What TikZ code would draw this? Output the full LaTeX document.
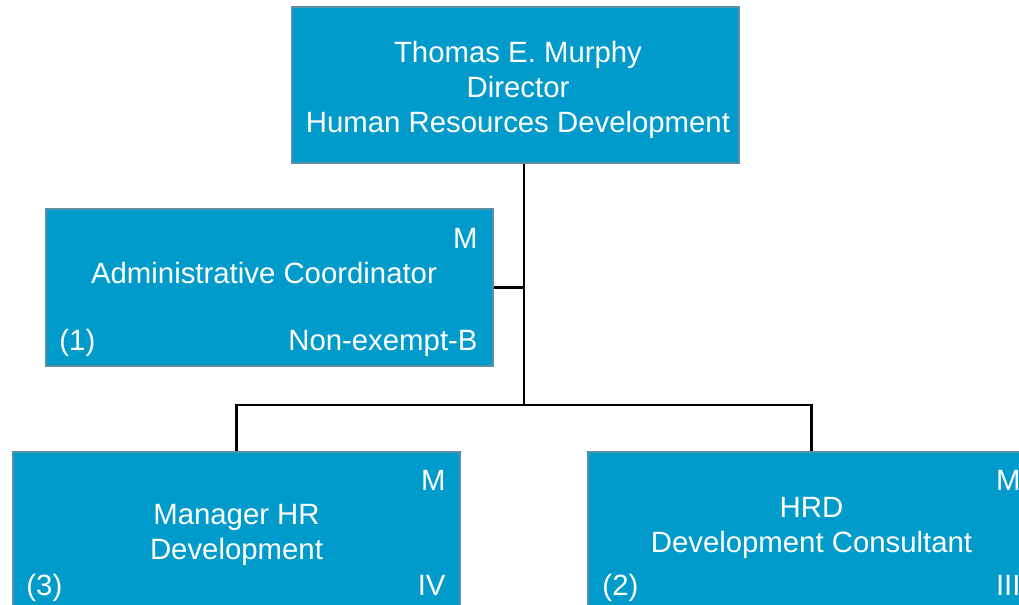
\documentclass[tikz,border=0pt]{standalone}
\usepackage{fontspec}
\setmainfont{Liberation Sans}
\usetikzlibrary{positioning,calc}
\definecolor{HRDBlue}{HTML}{009BCB}
\definecolor{HRDEdge}{HTML}{5B8FA6}

\begin{document}
\begin{tikzpicture}[
  orgbox/.style={fill=HRDBlue, draw=HRDEdge, line width=1pt, minimum width=8.94cm, minimum height=3.13cm, inner sep=0pt},
  boxtext/.style={text=white, font=\fontsize{16.7}{19.9}\selectfont, align=center, inner sep=0pt},
  tag/.style={text=white, font=\fontsize{16.7}{19.9}\selectfont, inner sep=0pt},
  link/.style={line width=1.3pt, black}
]
  \useasboundingbox (0,0) rectangle (20.38,-12.08);
  \clip (0,0) rectangle (20.38,-12.08);

  \node[orgbox] (dir)   at (10.31,-1.70) {};
  \node[orgbox] (admin) at (5.39,-5.75)  {};
  \node[orgbox] (mgr)   at (4.73,-10.60) {};
  \node[orgbox] (cons)  at (16.23,-10.60) {};

  \node[boxtext] (dir-text) at ($(dir.center)+(0.05,-0.09)$) {Thomas E. Murphy\\Director\\Human Resources Development};

  \node[boxtext] (admin-text) at ($(admin.center)+(-0.11,0.30)$) {Administrative Coordinator};
  \node[tag, anchor=base east] (admin-m)  at ([shift={(-0.32,-0.8)}]admin.north east) {M};
  \node[tag, anchor=base west] (admin-n)  at ([shift={(0.28,0.32)}]admin.south west) {(1)};
  \node[tag, anchor=base east] (admin-g)  at ([shift={(-0.32,0.32)}]admin.south east) {Non-exempt-B};

  \node[boxtext] (mgr-text) at ($(mgr.center)+(0,-0.10)$) {Manager HR\\Development};
  \node[tag, anchor=base east] (mgr-m) at ([shift={(-0.3,-0.8)}]mgr.north east) {M};
  \node[tag, anchor=base west] (mgr-n) at ([shift={(0.28,0.28)}]mgr.south west) {(3)};
  \node[tag, anchor=base east] (mgr-g) at ([shift={(-0.3,0.28)}]mgr.south east) {IV};

  \node[boxtext] (cons-text) at ($(cons.center)+(0,0.05)$) {HRD\\Development Consultant};
  \node[tag, anchor=base east] (cons-m) at ([shift={(-0.3,-0.8)}]cons.north east) {M};
  \node[tag, anchor=base west] (cons-n) at ([shift={(0.3,0.28)}]cons.south west) {(2)};
  \node[tag, anchor=base east] (cons-g) at ([shift={(-0.3,0.28)}]cons.south east) {III};

  \coordinate (trunk) at (10.48,-8.10);
  \draw[link] (dir.south -| trunk) -- (trunk);
  \draw[link] (admin.east) -- (admin.east -| trunk);
  \draw[link] (mgr.north) |- (trunk) -| (cons.north);
\end{tikzpicture}
\end{document}
